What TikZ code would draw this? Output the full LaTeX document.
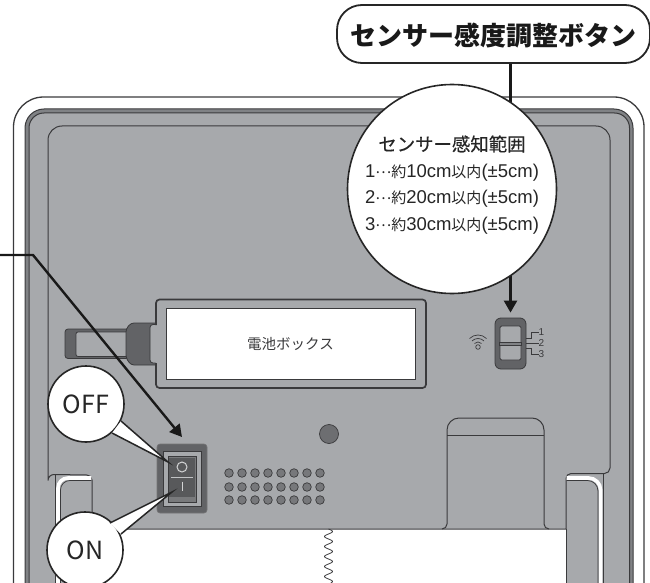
\documentclass[tikz,border=0pt]{standalone}
\usepackage{fontspec}
\setmainfont{Noto Sans CJK JP}
\newfontfamily\latfont{Liberation Sans}
\newfontfamily\medfont[FakeBold=0.35]{Noto Sans CJK JP}
\usetikzlibrary{arrows.meta}
\definecolor{panel}{HTML}{A7A9AC}
\definecolor{band}{HTML}{808285}
\definecolor{edge}{HTML}{3A3A3C}
\definecolor{darkpart}{HTML}{626366}
\definecolor{rocker}{HTML}{58595B}
\definecolor{dotfill}{HTML}{77787B}
\newcommand{\lt}[1]{{\latfont\fontsize{18.5}{18.5}\selectfont #1}}
\newcommand{\rangeline}[1]{\lt{#1}\raisebox{0.3em}{…}約}
\tikzset{
  outline/.style={draw=edge,line width=1pt},
  callout/.style={circle,draw=black!85,line width=1.6pt,fill=white,inner sep=0pt,text=black!85},
  leader/.style={black!90,line width=2.4pt},
  leadertip/.style={leader,-{Triangle[width=13pt,length=12pt]}},
  tailside/.style={draw=black!85,line width=1.5pt},
  speck/.style={circle,draw=edge,line width=0.7pt,fill=dotfill,minimum size=8.6pt,inner sep=0pt},
  tinytext/.style={font=\latfont\fontsize{10}{10}\selectfont,text=edge,inner sep=0pt},
  rangetext/.style={font=\fontsize{15}{15}\selectfont,text=black!85,inner sep=0pt},
}
\begin{document}
\begin{tikzpicture}[x=1pt,y=-1pt]
\useasboundingbox (0,0) rectangle (650,583);
\clip (0,0) rectangle (650,583);
% body
\draw[outline,line width=1.3pt,rounded corners=30pt] (13.5,600) -- (13.5,97) -- (644,97) -- (644,600);
\draw[outline,fill=band,rounded corners=19pt] (25,600) -- (25,109) -- (633,109) -- (633,600);
\draw[outline,fill=panel,rounded corners=15pt] (29,600) -- (29,113) -- (629.5,113) -- (629.5,600);
% bottom opening and recess outline
\fill[white] (92,529) rectangle (566,600);
\draw[outline] (92,529) -- (92,480) arc[start angle=0,end angle=90,radius=5pt] -- (54,474.5)
   arc[start angle=90,end angle=180,radius=6pt] -- (48,140) arc[start angle=180,end angle=90,radius=14pt]
   -- (596,126) arc[start angle=90,end angle=0,radius=14pt] -- (610,468)
   arc[start angle=0,end angle=-90,radius=5.5pt] -- (571,473.5) arc[start angle=90,end angle=180,radius=5pt] -- (566,529) -- cycle;
\draw[outline] (566,529) -- (566,600);
\draw[outline] (55.5,474.5) -- (55.5,600);
\draw[outline] (603,473.5) -- (603,600);
% tab highlights
\draw[white,line width=3.6pt] (58,600) -- (58,488) arc[start angle=180,end angle=90,radius=10pt] -- (91.4,478);
\draw[white,line width=3.6pt] (600.6,600) -- (600.6,490) arc[start angle=0,end angle=90,radius=12pt] -- (566.6,478);
\draw[edge,line width=0.7pt] (60.5,600) -- (60.5,490) arc[start angle=180,end angle=90,radius=9.5pt] -- (91.4,480.5);
\draw[edge,line width=0.7pt] (598,600) -- (598,491) arc[start angle=0,end angle=90,radius=10.5pt] -- (566.6,480.5);
% pocket
\draw[outline] (442,529) arc[start angle=-90,end angle=0,radius=5pt] -- (447,430) arc[start angle=180,end angle=90,radius=12pt]
   -- (532,418) arc[start angle=90,end angle=0,radius=12pt] -- (544,524) arc[start angle=180,end angle=270,radius=5pt];
\draw[outline] (447,435) -- (544,435);
% spring
\draw[edge,line width=0.8pt] plot[domain=0:54,samples=109] ({328.5+4*sin(36*\x)},{529+\x});
% battery handle
\draw[edge,line width=0.8pt,fill=darkpart,rounded corners=3pt] (128,329) -- (65,329) -- (65,358.5) -- (128,358.5);
\draw[edge,line width=0.8pt,fill=panel,rounded corners=2pt] (128,332) -- (76,332) -- (76,356.5) -- (128,356.5);
\draw[edge,line width=0.8pt,fill=darkpart,rounded corners=3pt] (158,323) -- (131,323) -- (126,329) -- (126,358) -- (131,365) -- (158,365) -- (158,363) -- (150,363) -- (150,324.5) -- (158,324.5) -- cycle;
% battery box
\draw[edge,line width=1.7pt,fill=panel,rounded corners=3.5pt] (156,325) -- (156,299.5) -- (426,299.5) -- (426,388) -- (156,388) -- (156,363);
\node[draw=edge,line width=0.9pt,fill=white,minimum width=249pt,minimum height=71pt,inner sep=0pt,font=\fontsize{14.5}{15}\selectfont,text=edge] (battery) at (290.5,343.5) {電池ボックス};
% power switch
\node[draw=edge!70,line width=0.6pt,fill=darkpart,rounded corners=3pt,minimum width=50pt,minimum height=69pt,inner sep=0pt] (power) at (182,478.5) {};
\node[draw=edge,line width=0.6pt,fill=panel,minimum width=38pt,minimum height=55pt,inner sep=0pt] (powerframe) at (182,478.5) {};
\node[draw=edge,line width=1pt,fill=rocker!80,minimum width=28pt,minimum height=46pt,inner sep=0pt] (rockerbox) at (182,479) {};
\node[fill=rocker,minimum width=26pt,minimum height=39pt,inner sep=0pt] (rockerface) at (182,477) {};
\draw[panel!70,line width=1pt] (171,477) -- (193,477);
\node[circle,draw=panel!50,line width=1pt,minimum size=10pt,inner sep=0pt] (offmark) at (182,467) {};
\draw[panel!50,line width=1pt] (182,481.5) -- (182,491);
% speaker holes
\foreach \r/\yy in {a/473,b/487,c/500}
  \foreach \c in {0,...,7}
    \node[speck] (h\r\c) at ({229+13*\c},\yy) {};
\node[circle,draw=edge,line width=0.7pt,fill=band!85!black,minimum size=19pt,inner sep=0pt] (lamp) at (329,434) {};
% sensor switch
\node[draw=edge,line width=0.8pt,fill=darkpart,rounded corners=6pt,minimum width=31pt,minimum height=51pt,inner sep=0pt] (sensor) at (510.5,343.5) {};
\node[draw=edge,line width=0.9pt,fill=panel,rounded corners=1.5pt,minimum width=21pt,minimum height=34pt,inner sep=0pt] (sensorin) at (510.5,343) {};
\draw[edge,line width=0.8pt,fill=band] (499.5,342) rectangle (521.5,345);
\node[tinytext] (s1) at (541.5,332.5) {1};
\node[tinytext] (s2) at (541.5,343.5) {2};
\node[tinytext] (s3) at (541.5,354.5) {3};
\draw[edge,line width=0.7pt] (sensor.east |- s2) -- (s2.west);
\draw[edge,line width=0.7pt] (526,338.5) -- (531,338.5) -- (531,332.5) -- (s1.west);
\draw[edge,line width=0.7pt] (526,348.5) -- (531,348.5) -- (531,354.5) -- (s3.west);
% wifi
\node[circle,draw=edge,line width=0.7pt,minimum size=4.6pt,inner sep=0pt] (wifi) at (478,347) {};
\foreach \rr in {5,8.5,12}
  \draw[edge,line width=0.7pt] ({478-\rr*sin(45)},{347-\rr*cos(45)}) arc[start angle=135,end angle=45,radius=\rr pt];
% leaders
\coordinate (freeend) at (0,255);
\coordinate (bend) at (33,255);
\coordinate (offtip) at (182,437);
\draw[leadertip] (freeend) -- (bend) -- (offtip);
\node[draw=black!85,line width=1.8pt,fill=white,rounded corners=25pt,minimum width=313pt,minimum height=58pt,inner sep=0pt] (button) at (493.5,34) {};
\node[font=\bfseries\fontsize{26}{26}\selectfont,text=black!90,inner sep=0pt] (buttontext) at (493,36) {センサー感度調整ボタン};
\draw[leadertip,shorten >=5pt] (sensor.north |- button.south) -- (sensor.north);
% range callout
\node[callout,minimum size=209pt] (range) at (452,189) {};
\node[rangetext,font=\medfont\fontsize{18.4}{18.4}\selectfont] (rangehead) at (452,144) {センサー感知範囲};
\node[rangetext] (range1) at (452,173) {\rangeline{1}\lt{10cm}以内\lt{(±5cm)}};
\node[rangetext] (range2) at (452,199) {\rangeline{2}\lt{20cm}以内\lt{(±5cm)}};
\node[rangetext] (range3) at (452,226) {\rangeline{3}\lt{30cm}以内\lt{(±5cm)}};
% OFF callout
\node[callout,minimum size=76pt,font=\fontsize{25}{25}\selectfont] (off) at (86,404) {OFF};
\coordinate (offa) at (121,421);
\coordinate (offb) at (112,433);
\coordinate (offpoint) at (168,462);
\fill[white] (offa) -- (offpoint) -- (offb) -- cycle;
\draw[tailside] (offa) -- (offpoint) -- (offb);
% ON callout
\node[callout,minimum size=76pt,font=\fontsize{25}{25}\selectfont] (on) at (85,550) {ON};
\coordinate (ona) at (110,523);
\coordinate (onb) at (121,534);
\coordinate (onpoint) at (172,492);
\fill[white] (ona) -- (onpoint) -- (onb) -- cycle;
\draw[tailside] (ona) -- (onpoint) -- (onb);
\end{tikzpicture}
\end{document}
